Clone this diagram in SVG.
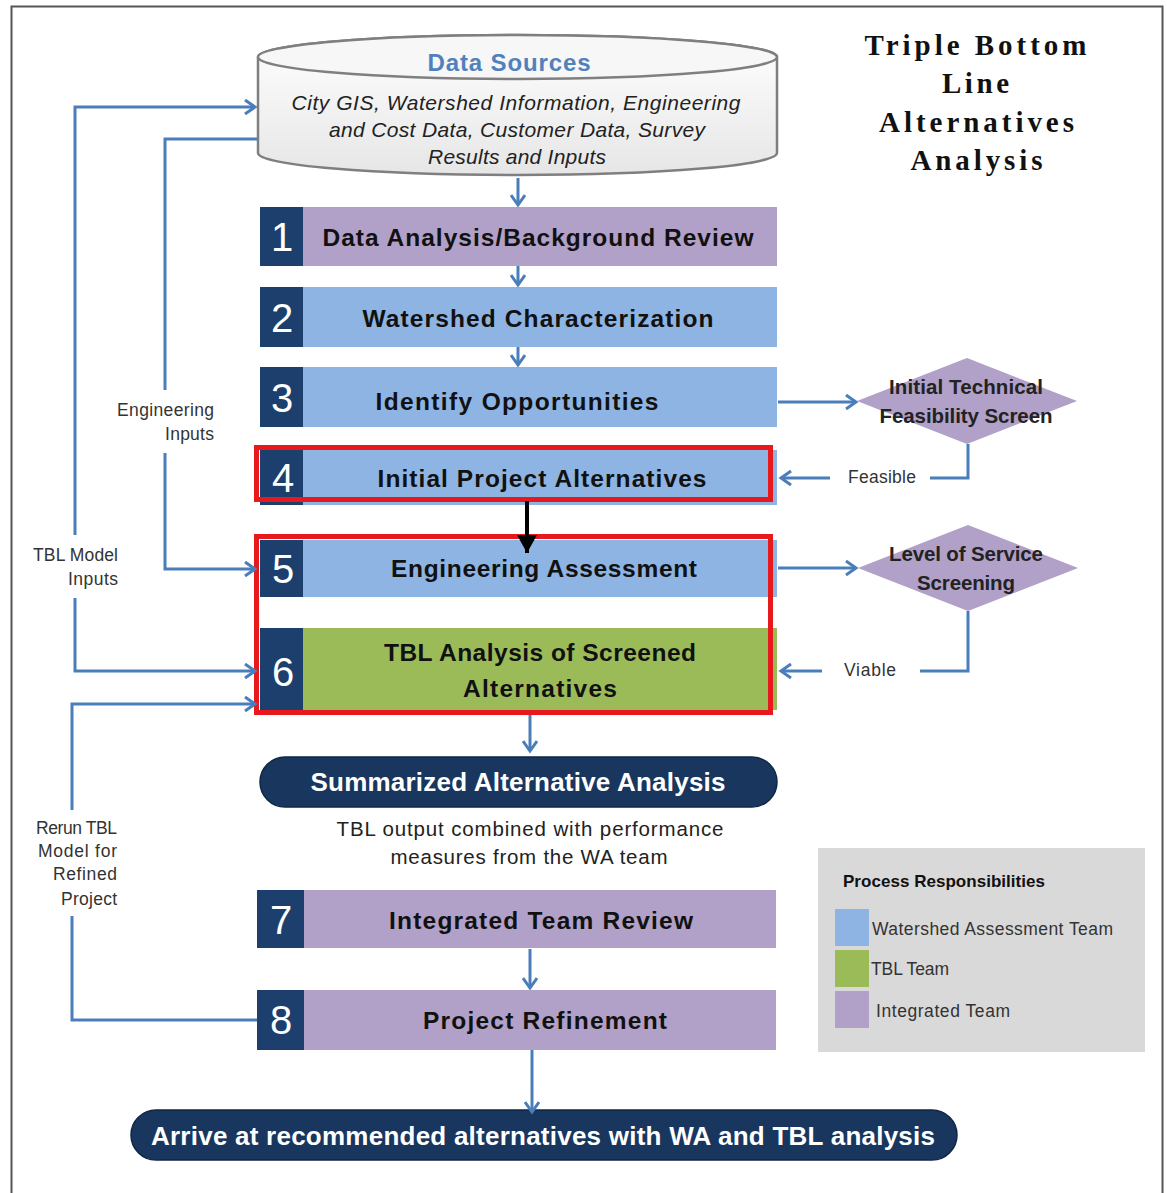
<svg xmlns="http://www.w3.org/2000/svg" width="1167" height="1193" viewBox="0 0 1167 1193">
<defs>
<linearGradient id="cyl" x1="0" y1="0" x2="0" y2="1">
<stop offset="0" stop-color="#ffffff"/>
<stop offset="1" stop-color="#e6e6e6"/>
</linearGradient>
<marker id="ah" markerUnits="userSpaceOnUse" markerWidth="14" markerHeight="16" refX="11" refY="8" orient="auto">
<path d="M1,1 L11,8 L1,15" fill="none" stroke="#4a7ebb" stroke-width="3"/>
</marker>
<marker id="ahk" markerUnits="userSpaceOnUse" markerWidth="20" markerHeight="22" refX="18" refY="11" orient="auto">
<path d="M0,1 L18,11 L0,21 Z" fill="#000"/>
</marker>
<style>
.sans{font-family:"Liberation Sans",Arial,sans-serif}
.lbl{font-family:"Liberation Sans",Arial,sans-serif;font-weight:bold;font-size:24.5px;fill:#111;text-anchor:middle}
.num{font-family:"Liberation Sans",Arial,sans-serif;font-size:40px;fill:#fff;text-anchor:middle}
.sm{font-family:"Liberation Sans",Arial,sans-serif;font-size:17.5px;fill:#333}
.blue{fill:#8eb4e3}
.purple{fill:#b1a0c7}
.green{fill:#9bbb59}
.navy{fill:#1c3f6e}
.red{fill:none;stroke:#e8191c;stroke-width:5}
.conn{fill:none;stroke:#4a7ebb;stroke-width:3}
.pill{fill:#18365e;stroke:#0f2745;stroke-width:1.5}
.pilltxt{font-family:"Liberation Sans",Arial,sans-serif;font-weight:bold;font-size:26px;fill:#fff;text-anchor:middle}
.title{font-family:"Liberation Serif","Times New Roman",serif;font-weight:bold;font-size:29px;fill:#111;text-anchor:middle;letter-spacing:3px}
.dia{fill:#b1a0c7}
.dtxt{font-family:"Liberation Sans",Arial,sans-serif;font-weight:bold;font-size:20.5px;fill:#222;text-anchor:middle}
.ital{font-family:"Liberation Sans",Arial,sans-serif;font-size:21px;font-style:italic;fill:#222;text-anchor:middle}
.body{font-family:"Liberation Sans",Arial,sans-serif;font-size:20.5px;fill:#222;text-anchor:middle}
</style>
</defs>
<rect x="0" y="0" width="1167" height="1193" fill="#fff"/>
<rect x="11.5" y="6.5" width="1151" height="1200" fill="none" stroke="#555" stroke-width="2"/>

<g id="title">
<text class="title" x="977" y="55" textLength="225">Triple Bottom</text>
<text class="title" x="977" y="93" textLength="70">Line</text>
<text class="title" x="978" y="132" textLength="198">Alternatives</text>
<text class="title" x="978" y="170" textLength="135">Analysis</text>
</g>

<g id="data-sources">
<path d="M258,57 L258,153 A259.5,22 0 0 0 777,153 L777,57 A259.5,22 0 0 0 258,57 Z" fill="url(#cyl)" stroke="#7f7f7f" stroke-width="2.5"/>
<ellipse cx="517.5" cy="57" rx="259.5" ry="22" fill="#f7f7f7" stroke="#7f7f7f" stroke-width="2.5"/>
<text class="sans" x="509" y="71" font-size="24" font-weight="bold" fill="#4f81bd" text-anchor="middle" textLength="163">Data Sources</text>
<text class="ital" x="516" y="110" textLength="449">City GIS, Watershed Information, Engineering</text>
<text class="ital" x="517" y="137" textLength="376">and Cost Data, Customer Data, Survey</text>
<text class="ital" x="517" y="164" textLength="178">Results and Inputs</text>
</g>

<g id="step1">
<rect class="purple" x="260" y="207" width="517" height="59"/>
<rect class="navy" x="260" y="207" width="43" height="59"/>
<text class="num" x="282" y="251">1</text>
<text class="lbl" x="538" y="246" textLength="431">Data Analysis/Background Review</text>
</g>

<g id="step2">
<rect class="blue" x="260" y="287" width="517" height="60"/>
<rect class="navy" x="260" y="287" width="43" height="60"/>
<text class="num" x="282" y="332">2</text>
<text class="lbl" x="538" y="327" textLength="351">Watershed Characterization</text>
</g>

<g id="step3">
<rect class="blue" x="260" y="367" width="517" height="60"/>
<rect class="navy" x="260" y="367" width="43" height="60"/>
<text class="num" x="282" y="412">3</text>
<text class="lbl" x="517" y="410" textLength="283">Identify Opportunities</text>
</g>

<g id="step4">
<rect class="blue" x="260" y="450" width="517" height="55"/>
<rect class="navy" x="260" y="450" width="43" height="55"/>
<rect class="red" x="256.5" y="447.5" width="514" height="52"/>
<text class="num" x="283" y="492">4</text>
<text class="lbl" x="542" y="487" textLength="329">Initial Project Alternatives</text>
</g>

<g id="screen1">
<polygon class="dia" points="967,358 1077,401 967,444 857,401"/>
<text class="dtxt" x="966" y="394" textLength="154">Initial Technical</text>
<text class="dtxt" x="966" y="423" textLength="173">Feasibility Screen</text>
</g>

<g id="step5">
<rect class="blue" x="260" y="540" width="517" height="57"/>
<rect class="navy" x="260" y="540" width="43" height="57"/>
<text class="num" x="283" y="583">5</text>
<text class="lbl" x="544" y="577" textLength="306">Engineering Assessment</text>
</g>

<g id="step6">
<rect class="green" x="260" y="628" width="517" height="82"/>
<rect class="navy" x="260" y="628" width="43" height="82"/>
<text class="num" x="283" y="686">6</text>
<text class="lbl" x="540" y="661" textLength="312">TBL Analysis of Screened</text>
<text class="lbl" x="540" y="697" textLength="154">Alternatives</text>
</g>
<rect class="red" x="256.5" y="536.5" width="514" height="176"/>

<g id="screen2">
<polygon class="dia" points="968,525 1078,568 968,611 858,568"/>
<text class="dtxt" x="966" y="561" textLength="154">Level of Service</text>
<text class="dtxt" x="966" y="590" textLength="98">Screening</text>
</g>

<g id="summary">
<rect class="pill" x="260" y="757" width="517" height="50" rx="25"/>
<text class="pilltxt" x="518" y="791" textLength="415">Summarized Alternative Analysis</text>
<text class="body" x="530" y="836" textLength="387">TBL output combined with performance</text>
<text class="body" x="529" y="864" textLength="277">measures from the WA team</text>
</g>

<g id="step7">
<rect class="purple" x="257" y="890" width="519" height="58"/>
<rect class="navy" x="257" y="890" width="47" height="58"/>
<text class="num" x="281" y="934">7</text>
<text class="lbl" x="541" y="929" textLength="304">Integrated Team Review</text>
</g>

<g id="step8">
<rect class="purple" x="257" y="990" width="519" height="60"/>
<rect class="navy" x="257" y="990" width="47" height="60"/>
<text class="num" x="281" y="1034">8</text>
<text class="lbl" x="545" y="1029" textLength="244">Project Refinement</text>
</g>

<g id="final">
<rect class="pill" x="131" y="1110" width="826" height="50" rx="25"/>
<text class="pilltxt" x="543" y="1145" textLength="784">Arrive at recommended alternatives with WA and TBL analysis</text>
</g>

<g id="labels">
<text class="sm" x="882" y="483" text-anchor="middle" textLength="68">Feasible</text>
<text class="sm" x="870" y="676" text-anchor="middle" textLength="52">Viable</text>
<text class="sm" x="214" y="416" text-anchor="end" textLength="97">Engineering</text>
<text class="sm" x="214" y="440" text-anchor="end" textLength="49">Inputs</text>
<text class="sm" x="118" y="561" text-anchor="end" textLength="85">TBL Model</text>
<text class="sm" x="118" y="585" text-anchor="end" textLength="50">Inputs</text>
<text class="sm" x="117" y="834" text-anchor="end" textLength="81">Rerun TBL</text>
<text class="sm" x="117" y="857" text-anchor="end" textLength="79">Model for</text>
<text class="sm" x="117" y="880" text-anchor="end" textLength="64">Refined</text>
<text class="sm" x="117" y="905" text-anchor="end" textLength="56">Project</text>
</g>

<g id="legend">
<rect x="818" y="848" width="327" height="204" fill="#d9d9d9"/>
<text class="sans" x="843" y="887" font-size="17" font-weight="bold" fill="#111" textLength="202">Process Responsibilities</text>
<rect class="blue" x="835" y="909" width="34" height="37"/>
<rect class="green" x="835" y="950" width="34" height="37"/>
<rect class="purple" x="835" y="991" width="34" height="37"/>
<text class="sm" x="872" y="935" textLength="241">Watershed Assessment Team</text>
<text class="sm" x="871" y="975" textLength="78">TBL Team</text>
<text class="sm" x="876" y="1017" textLength="134">Integrated Team</text>
</g>

<g id="connectors">
<line class="conn" x1="518" y1="178" x2="518" y2="205" marker-end="url(#ah)"/>
<line class="conn" x1="518" y1="266" x2="518" y2="285" marker-end="url(#ah)"/>
<line class="conn" x1="518" y1="347" x2="518" y2="365" marker-end="url(#ah)"/>
<line class="conn" x1="778" y1="402" x2="856" y2="402" marker-end="url(#ah)"/>
<polyline class="conn" points="968,444 968,478 930,478"/>
<line class="conn" x1="830" y1="478" x2="781" y2="478" marker-end="url(#ah)"/>
<line x1="527" y1="501" x2="527" y2="553" stroke="#000" stroke-width="4" marker-end="url(#ahk)"/>
<line class="conn" x1="778" y1="568" x2="856" y2="568" marker-end="url(#ah)"/>
<polyline class="conn" points="968,611 968,671 920,671"/>
<line class="conn" x1="822" y1="671" x2="781" y2="671" marker-end="url(#ah)"/>
<line class="conn" x1="530" y1="715" x2="530" y2="751" marker-end="url(#ah)"/>
<line class="conn" x1="530" y1="949" x2="530" y2="988" marker-end="url(#ah)"/>
<line class="conn" x1="532" y1="1050" x2="532" y2="1112" marker-end="url(#ah)"/>
<polyline class="conn" points="75,535 75,107 255,107" marker-end="url(#ah)"/>
<polyline class="conn" points="75,598 75,671 255,671" marker-end="url(#ah)"/>
<polyline class="conn" points="257,139 165,139 165,390"/>
<polyline class="conn" points="165,453 165,569 255,569" marker-end="url(#ah)"/>
<polyline class="conn" points="257,1020 72,1020 72,916"/>
<polyline class="conn" points="72,810 72,704 255,704" marker-end="url(#ah)"/>
</g>
</svg>
